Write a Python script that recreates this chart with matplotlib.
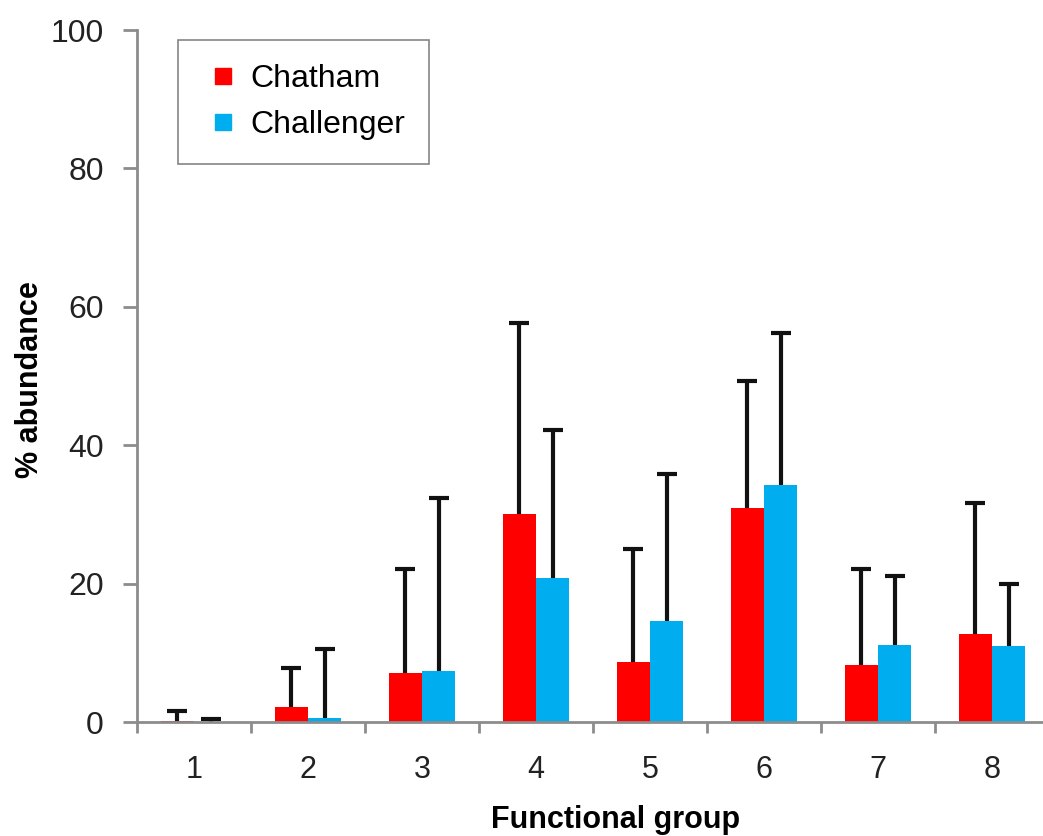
import matplotlib.pyplot as plt
from matplotlib.lines import Line2D
import numpy as np

plt.rcParams['font.family'] = ['Liberation Sans', 'DejaVu Sans']

groups = ['1', '2', '3', '4', '5', '6', '7', '8']
chatham = [0.2, 2.1, 7.1, 30.1, 8.6, 30.9, 8.2, 12.7]
chatham_top = [1.6, 7.8, 22.1, 57.6, 25.0, 49.3, 22.1, 31.7]
challenger = [0.0, 0.6, 7.4, 20.8, 14.6, 34.2, 11.1, 11.0]
challenger_top = [0.5, 10.5, 32.4, 42.2, 35.8, 56.2, 21.1, 20.0]

x = np.arange(1, len(groups) + 1)
w = 0.29
grey = '#8c8c8c'
red, blue = '#ff0000', '#00aeef'

fig = plt.figure(figsize=(10.43, 8.36), dpi=100)
ax = fig.add_axes([137 / 1043, 114 / 836, 912 / 1043, 692 / 836])

ax.bar(x - w / 2, chatham, w, color=red, zorder=2)
ax.bar(x + w / 2, challenger, w, color=blue, zorder=2)

# upper error bars only
for xs, vals, tops in [(x - w / 2, chatham, chatham_top),
                       (x + w / 2, challenger, challenger_top)]:
    err = [np.zeros(len(xs)), np.array(tops) - np.array(vals)]
    _, caps, _ = ax.errorbar(xs, vals, yerr=err, fmt='none', ecolor='#111111',
                             elinewidth=3, capsize=7, capthick=3, zorder=1)
    caps[0].set_visible(False)

ax.set_xlim(0.5, 8.5)
ax.set_ylim(0, 100)
ax.set_yticks(np.arange(0, 101, 20))
ax.set_xticks(np.arange(0.5, 8.6, 1))
ax.set_xticklabels([])
ax.set_xticks(x, minor=True)
ax.set_xticklabels(groups, minor=True)
ax.tick_params(axis='x', which='minor', length=0, pad=24, labelsize=22, labelcolor='#222222')
ax.tick_params(axis='x', which='major', direction='out', length=8, width=2, color=grey)
ax.tick_params(axis='y', direction='out', length=10, width=2, color=grey,
               labelsize=23, labelcolor='#222222', pad=14)

for s in ['top', 'right']:
    ax.spines[s].set_visible(False)
for s in ['left', 'bottom']:
    ax.spines[s].set_color(grey)
    ax.spines[s].set_linewidth(2)

fig.text(30 / 1043, 456 / 836, '% abundance', fontsize=22, fontweight='bold',
         rotation=90, ha='center', va='center')
fig.text(0.59, 1 / 836, 'Functional group', fontsize=22, fontweight='bold',
         ha='center', va='bottom')

handles = [Line2D([], [], ls='none', marker='s', markersize=11, color=red),
           Line2D([], [], ls='none', marker='s', markersize=11, color=blue)]
leg = ax.legend(handles, ['Chatham', 'Challenger'], loc='upper left',
                bbox_to_anchor=(0.045, 0.985), fontsize=23,
                frameon=True, fancybox=False, edgecolor='#666666',
                handlelength=1.3, handletextpad=0.2,
                borderpad=0.75, labelspacing=0.5, borderaxespad=0)
leg.get_frame().set_linewidth(1.2)

fig.savefig('out.png', dpi=100)
